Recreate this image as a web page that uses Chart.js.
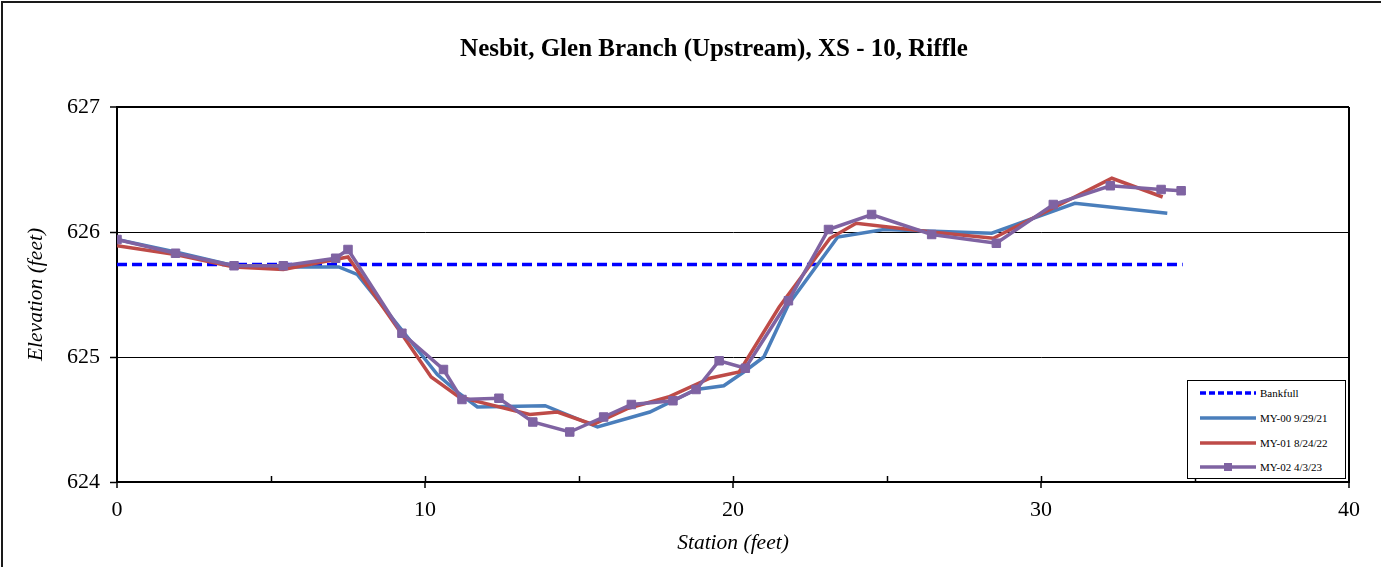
<!DOCTYPE html>
<html>
<head>
<meta charset="utf-8">
<title>Nesbit, Glen Branch (Upstream), XS - 10, Riffle</title>
<script src="https://cdn.jsdelivr.net/npm/chart.js@4/dist/chart.umd.min.js"></script>
<style>
  html, body { margin: 0; padding: 0; background: #fff; }
  #wrap { position: relative; width: 1381px; height: 567px; overflow: hidden; background: #fff; }
  #c { position: absolute; left: 0; top: 0; }
  #frame { position: absolute; left: 1px; top: 1px; width: 1400px; height: 600px;
           border-left: 2px solid #1a1a1a; border-top: 2px solid #1a1a1a; pointer-events: none; }
  #title { position: absolute; left: 714px; top: 35px; white-space: nowrap;
           font: bold 25px/25px 'Liberation Serif', 'Times New Roman', serif; color: #000;
           transform: translateX(-50%) scaleX(1.0); transform-origin: center; }
  #legend { position: absolute; left: 1187px; top: 380px; width: 157px; height: 97px;
            border: 1.5px solid #000; background: #fff;
            font: 11px 'Liberation Serif', 'Times New Roman', serif; color: #000; }
  #legend .row { position: absolute; left: 0; height: 16px; display: flex; align-items: center; }
  #legend svg { margin-left: 12px; margin-right: 4px; }
</style>
</head>
<body>
<div id="wrap">
  <canvas id="c" width="1381" height="567" style="width:1381px;height:567px"></canvas>
  <div id="title">Nesbit, Glen Branch (Upstream), XS - 10, Riffle</div>
  <div id="legend"></div>
  <div id="frame"></div>
</div>
<script>
// Survey series: station (ft) and elevation (ft)
const bankfullStation = [0, 34.6];
const bankfullElev    = [625.74, 625.74];

const my00Station = [0, 1.9, 3.8, 5.4, 7.2, 7.8, 9.3, 10.4, 11.1, 11.7, 13.9, 15.6, 17.3, 18.8, 19.7, 20.35, 21.0, 21.8, 23.4, 24.9, 28.4, 31.1, 34.1];
const my00Elev    = [625.94, 625.84, 625.73, 625.72, 625.72, 625.66, 625.20, 624.86, 624.71, 624.60, 624.61, 624.44, 624.56, 624.74, 624.77, 624.88, 625.00, 625.42, 625.96, 626.02, 625.99, 626.23, 626.15];

const my01Station = [0, 1.9, 3.8, 5.4, 7.5, 9.2, 10.2, 11.1, 13.4, 14.3, 15.45, 16.6, 17.9, 19.25, 20.2, 21.5, 23.15, 24.0, 26.45, 28.45, 32.3, 33.95];
const my01Elev    = [625.89, 625.82, 625.72, 625.70, 625.80, 625.20, 624.84, 624.68, 624.54, 624.56, 624.46, 624.59, 624.68, 624.83, 624.88, 625.40, 625.95, 626.07, 626.00, 625.95, 626.43, 626.28];

const my02Station = [0, 1.9, 3.8, 5.4, 7.1, 7.5, 9.25, 10.6, 11.2, 12.4, 13.5, 14.7, 15.8, 16.7, 18.05, 18.8, 19.55, 20.4, 21.8, 23.1, 24.5, 26.45, 28.55, 30.4, 32.25, 33.9, 34.55];
const my02Elev    = [625.94, 625.83, 625.73, 625.73, 625.79, 625.86, 625.19, 624.90, 624.66, 624.67, 624.48, 624.40, 624.52, 624.62, 624.65, 624.74, 624.97, 624.91, 625.45, 626.02, 626.14, 625.98, 625.91, 626.22, 626.37, 626.34, 626.33];

const seriesLabels = ['Bankfull', 'MY-00 9/29/21', 'MY-01 8/24/22', 'MY-02 4/3/23'];
const xTickValues = [0, 10, 20, 30, 40];
const yTickValues = [624, 625, 626, 627];

const toPoints = (xs, ys) => xs.map((x, i) => ({ x: x, y: ys[i] }));

const SERIF = "'Liberation Serif', 'Times New Roman', serif";
Chart.defaults.font.family = SERIF;
Chart.defaults.color = '#000';

const datasets = [
  { label: seriesLabels[0], data: toPoints(bankfullStation, bankfullElev),
    borderColor: '#0000ff', borderWidth: 3.5, borderDash: [10, 5], pointRadius: 0, order: 3 },
  { label: seriesLabels[1], data: toPoints(my00Station, my00Elev),
    borderColor: '#4a7ebb', borderWidth: 3.5, pointRadius: 0, order: 2 },
  { label: seriesLabels[2], data: toPoints(my01Station, my01Elev),
    borderColor: '#be4b48', borderWidth: 3.5, pointRadius: 0, order: 1 },
  { label: seriesLabels[3], data: toPoints(my02Station, my02Elev),
    borderColor: '#7f63a2', borderWidth: 3.5, pointStyle: 'rect', pointRadius: 6,
    pointBackgroundColor: '#7f63a2', pointBorderColor: '#7f63a2', pointBorderWidth: 1, order: 0 }
];

// Small inward tick marks along the station axis every 5 ft
const stationMinorTicks = {
  id: 'stationMinorTicks',
  afterDraw(chart) {
    const xs = chart.scales.x, area = chart.chartArea, ctx = chart.ctx;
    ctx.save();
    ctx.strokeStyle = '#000';
    ctx.lineWidth = 1.5;
    for (let v = 5; v < 40; v += 5) {
      const px = Math.round(xs.getPixelForValue(v)) + 0.5;
      ctx.beginPath();
      ctx.moveTo(px, area.bottom - 6);
      ctx.lineTo(px, area.bottom);
      ctx.stroke();
    }
    ctx.restore();
  }
};

const chart = new Chart(document.getElementById('c'), {
  type: 'line',
  data: { datasets: datasets },
  plugins: [stationMinorTicks],
  options: {
    responsive: false,
    devicePixelRatio: 1,
    animation: false,
    layout: { padding: { left: 0, right: 32, top: 107, bottom: 0 } },
    elements: { line: { tension: 0, fill: false } },
    plugins: { legend: { display: false }, title: { display: false }, tooltip: { enabled: false } },
    scales: {
      x: {
        type: 'linear', min: 0, max: 40,
        afterBuildTicks: s => { s.ticks = xTickValues.map(v => ({ value: v })); },
        afterFit: s => { s.height = 85; },
        ticks: { font: { size: 22 }, padding: 9, maxRotation: 0 },
        grid: {
          color: c => (c.tick && c.tick.value === 40) ? '#000' : 'rgba(0,0,0,0)',
          lineWidth: 2, tickColor: '#000', tickWidth: 1.5, tickLength: 6
        },
        border: { display: true, color: '#000', width: 2 },
        title: { display: true, text: 'Station (feet)', font: { size: 21.5, style: 'italic' },
                 padding: { top: 0, bottom: 11 } }
      },
      y: {
        type: 'linear', min: 624, max: 627,
        afterBuildTicks: s => { s.ticks = yTickValues.map(v => ({ value: v })); },
        afterFit: s => { s.width = 117; },
        ticks: { font: { size: 22 }, padding: 10 },
        grid: {
          color: '#000',
          lineWidth: c => (c.tick && c.tick.value === 627) ? 2 : 1,
          tickColor: '#000', tickWidth: 1.5, tickLength: 7
        },
        border: { display: true, color: '#000', width: 2 },
        title: { display: true, text: 'Elevation (feet)', font: { size: 21.5, style: 'italic' },
                 padding: { top: 23, bottom: 0 } }
      }
    }
  }
});

// Legend built from the chart's own dataset settings
(function buildLegend() {
  const box = document.getElementById('legend');
  const rowTops = [4, 29, 54, 78];
  chart.data.datasets.forEach((ds, i) => {
    const row = document.createElement('div');
    row.className = 'row';
    row.style.top = rowTops[i] + 'px';
    const w = 56, h = 14, mid = h / 2;
    let svg = '<svg width="' + w + '" height="' + h + '" viewBox="0 0 ' + w + ' ' + h + '">' +
      '<line x1="0" y1="' + mid + '" x2="' + w + '" y2="' + mid + '" stroke="' + ds.borderColor +
      '" stroke-width="' + ds.borderWidth + '"' +
      (ds.borderDash ? ' stroke-dasharray="' + ds.borderDash.map(d => d * 0.6).join(' ') + '"' : '') + '/>';
    if (ds.pointRadius) {
      svg += '<rect x="' + (w / 2 - 4) + '" y="' + (mid - 4) + '" width="8" height="8" fill="' + ds.pointBackgroundColor + '"/>';
    }
    svg += '</svg>';
    row.innerHTML = svg + '<span>' + ds.label + '</span>';
    box.appendChild(row);
  });
})();
</script>
</body>
</html>
